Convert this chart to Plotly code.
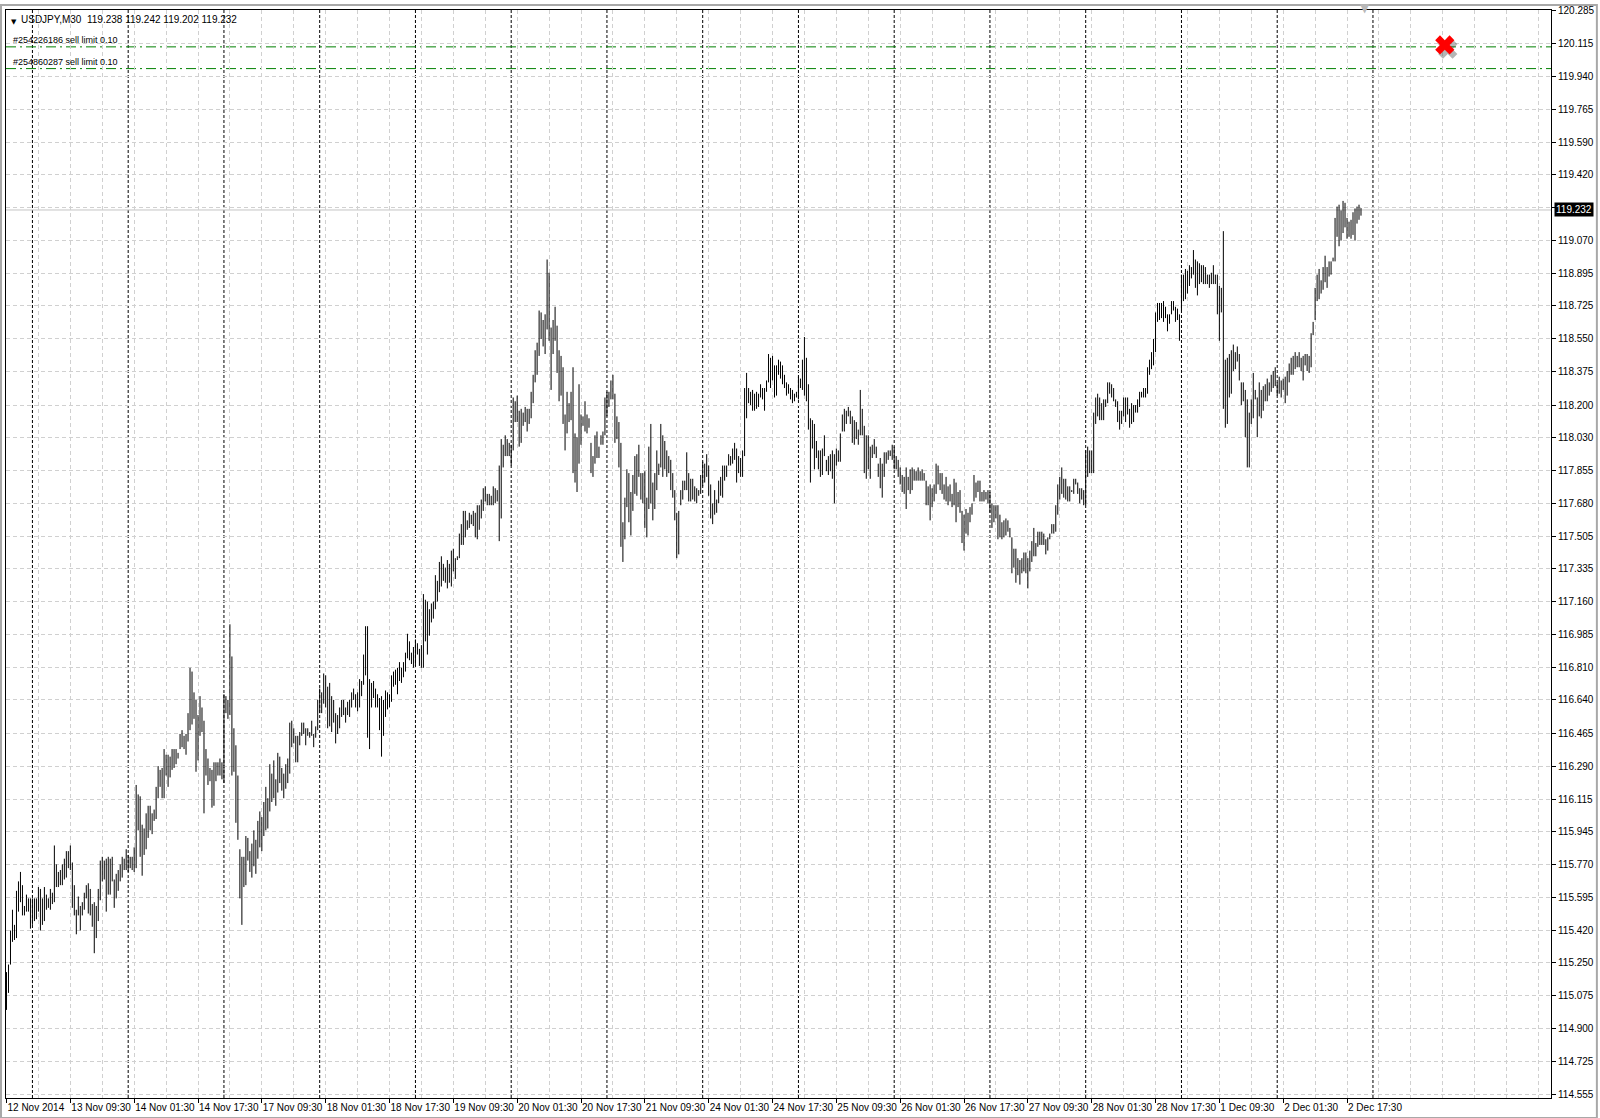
import plotly.graph_objects as go

# USDJPY, M30 - one value per 30 minute bar, first bar 12 Nov 2014 17:30
bar_high = [
    115.20, 115.24, 115.42, 115.53, 115.45, 115.63, 115.68, 115.73, 115.66, 115.55,
    115.61, 115.59, 115.59, 115.59, 115.59, 115.59, 115.65, 115.64, 115.59, 115.65,
    115.61, 115.59, 115.64, 115.62, 115.87, 115.77, 115.73, 115.74, 115.77, 115.80,
    115.84, 115.84, 115.87, 115.78, 115.66, 115.53, 115.60, 115.55, 115.57, 115.62,
    115.66, 115.67, 115.64, 115.56, 115.57, 115.55, 115.64, 115.79, 115.81, 115.79,
    115.80, 115.81, 115.80, 115.81, 115.69, 115.72, 115.74, 115.77, 115.81, 115.80,
    115.85, 115.82, 115.81, 115.81, 115.86, 116.19, 116.14, 116.13, 115.98, 115.96,
    116.04, 116.08, 116.08, 116.04, 116.06, 116.18, 116.29, 116.27, 116.28, 116.38,
    116.35, 116.35, 116.34, 116.38, 116.38, 116.38, 116.36, 116.46, 116.48, 116.45,
    116.46, 116.57, 116.81, 116.79, 116.68, 116.64, 116.56, 116.66, 116.60, 116.53,
    116.38, 116.33, 116.28, 116.27, 116.31, 116.31, 116.31, 116.33, 116.31, 116.67,
    116.66, 116.64, 117.04, 116.87, 116.49, 116.40, 116.24, 115.85, 115.81, 115.81,
    115.92, 115.91, 115.84, 115.88, 115.95, 115.90, 116.00, 116.05, 116.02, 116.10,
    116.18, 116.12, 116.30, 116.25, 116.32, 116.22, 116.36, 116.34, 116.28, 116.25,
    116.30, 116.33, 116.52, 116.53, 116.49, 116.45, 116.45, 116.47, 116.52, 116.52,
    116.49, 116.49, 116.47, 116.53, 116.46, 116.50, 116.64, 116.70, 116.68, 116.78,
    116.77, 116.71, 116.73, 116.66, 116.64, 116.57, 116.56, 116.60, 116.64, 116.64,
    116.60, 116.63, 116.64, 116.68, 116.70, 116.67, 116.68, 116.75, 116.74, 116.88,
    117.03, 117.03, 116.75, 116.73, 116.74, 116.70, 116.67, 116.65, 116.66, 116.64,
    116.69, 116.68, 116.67, 116.77, 116.79, 116.80, 116.81, 116.84, 116.81, 116.84,
    116.89, 116.99, 116.95, 116.89, 116.92, 116.96, 116.94, 116.91, 116.93, 117.20,
    117.17, 117.16, 117.12, 117.15, 117.16, 117.30, 117.27, 117.37, 117.40, 117.36,
    117.34, 117.38, 117.36, 117.43, 117.44, 117.39, 117.40, 117.52, 117.57, 117.64,
    117.64, 117.59, 117.63, 117.62, 117.64, 117.63, 117.67, 117.67, 117.70, 117.76,
    117.77, 117.73, 117.73, 117.72, 117.77, 117.76, 117.75, 117.88, 118.02, 117.99,
    118.04, 118.02, 118.00, 117.99, 118.24, 118.22, 118.25, 118.17, 118.18, 118.16,
    118.19, 118.18, 118.18, 118.27, 118.36, 118.49, 118.53, 118.70, 118.69, 118.65,
    118.68, 118.97, 118.90, 118.61, 118.65, 118.72, 118.62, 118.49, 118.46, 118.40,
    118.15, 118.27, 118.21, 118.27, 118.40, 118.05, 118.03, 118.31, 118.15, 118.14,
    118.22, 118.15, 118.13, 118.00, 117.93, 118.04, 118.06, 117.98, 118.04, 118.06,
    118.24, 118.27, 118.27, 118.33, 118.36, 118.26, 118.14, 118.11, 118.00, 117.58,
    117.71, 117.86, 117.84, 117.74, 117.83, 117.93, 117.94, 117.99, 117.84, 117.84,
    117.85, 117.71, 117.98, 118.10, 117.79, 117.84, 117.96, 117.89, 118.10, 118.04,
    118.01, 117.96, 117.93, 117.91, 117.84, 117.75, 117.63, 117.64, 117.75, 117.80,
    117.80, 117.95, 117.84, 117.81, 117.81, 117.77, 117.76, 117.75, 117.83, 117.90,
    117.89, 117.94, 117.88, 117.78, 117.68, 117.75, 117.70, 117.80, 117.82, 117.88,
    117.88, 117.88, 117.94, 117.93, 117.97, 118.00, 117.97, 117.93, 117.92, 117.96,
    118.29, 118.37, 118.29, 118.27, 118.28, 118.26, 118.27, 118.26, 118.31, 118.29,
    118.29, 118.33, 118.47, 118.45, 118.46, 118.41, 118.41, 118.44, 118.43, 118.41,
    118.36, 118.32, 118.31, 118.29, 118.28, 118.26, 118.27, 118.35, 118.34, 118.44,
    118.56, 118.45, 118.31, 118.13, 118.12, 118.10, 118.01, 117.96, 117.96, 117.97,
    118.04, 117.91, 117.93, 117.94, 117.96, 117.94, 117.97, 117.96, 118.05, 118.15,
    118.18, 118.17, 118.19, 118.17, 118.14, 118.12, 118.11, 118.07, 118.28, 118.18,
    118.09, 118.04, 118.04, 117.98, 117.99, 118.02, 117.98, 117.89, 117.92, 117.89,
    117.95, 117.95, 117.96, 117.96, 117.99, 117.98, 117.93, 117.91, 117.87, 117.83,
    117.82, 117.87, 117.82, 117.86, 117.87, 117.86, 117.85, 117.87, 117.85, 117.86,
    117.84, 117.80, 117.77, 117.78, 117.76, 117.78, 117.89, 117.88, 117.84, 117.84,
    117.78, 117.82, 117.77, 117.78, 117.73, 117.81, 117.79, 117.74, 117.75, 117.64,
    117.62, 117.65, 117.63, 117.66, 117.68, 117.83, 117.79, 117.80, 117.80, 117.74,
    117.75, 117.74, 117.75, 117.74, 117.68, 117.67, 117.67, 117.67, 117.62, 117.58,
    117.59, 117.60, 117.59, 117.55, 117.50, 117.44, 117.44, 117.39, 117.38, 117.39,
    117.42, 117.42, 117.39, 117.43, 117.48, 117.55, 117.47, 117.53, 117.53, 117.53,
    117.52, 117.49, 117.50, 117.52, 117.57, 117.57, 117.67, 117.78, 117.82, 117.87,
    117.81, 117.81, 117.77, 117.77, 117.75, 117.81, 117.81, 117.79, 117.76, 117.76,
    117.75, 117.96, 117.98, 117.96, 117.96, 118.16, 118.24, 118.26, 118.24, 118.21,
    118.23, 118.23, 118.32, 118.32, 118.31, 118.29, 118.23, 118.22, 118.17, 118.17,
    118.24, 118.24, 118.24, 118.18, 118.21, 118.20, 118.20, 118.23, 118.27, 118.27,
    118.29, 118.29, 118.40, 118.44, 118.48, 118.55, 118.69, 118.74, 118.74, 118.74,
    118.75, 118.72, 118.68, 118.68, 118.75, 118.75, 118.72, 118.71, 118.68, 118.89,
    118.89, 118.92, 118.91, 118.94, 118.93, 119.02, 118.97, 118.96, 118.95, 118.94,
    118.94, 118.93, 118.89, 118.89, 118.90, 118.94, 118.89, 118.89, 118.83, 118.82,
    119.12, 118.44, 118.45, 118.47, 118.49, 118.52, 118.48, 118.51, 118.47, 118.32,
    118.32, 118.28, 118.23, 118.16, 118.23, 118.37, 118.28, 118.24, 118.32, 118.28,
    118.30, 118.31, 118.34, 118.32, 118.36, 118.38, 118.40, 118.32, 118.35, 118.33,
    118.34, 118.35, 118.38, 118.42, 118.45, 118.46, 118.48, 118.46, 118.48, 118.45,
    118.46, 118.47, 118.47, 118.46, 118.58, 118.64, 118.82, 118.89, 118.92, 118.86,
    118.93, 118.99, 118.93, 118.96, 118.96, 118.98, 119.19, 119.25, 119.26, 119.23,
    119.28, 119.27, 119.19, 119.17, 119.18, 119.22, 119.24, 119.25, 119.26, 119.242,
]

bar_low = [
    115.00, 115.09, 115.24, 115.36, 115.37, 115.38, 115.52, 115.57, 115.50, 115.50,
    115.52, 115.52, 115.43, 115.45, 115.47, 115.48, 115.52, 115.42, 115.45, 115.47,
    115.53, 115.54, 115.53, 115.56, 115.57, 115.65, 115.65, 115.66, 115.66, 115.69,
    115.70, 115.75, 115.74, 115.54, 115.50, 115.40, 115.50, 115.42, 115.50, 115.53,
    115.59, 115.51, 115.50, 115.44, 115.30, 115.38, 115.47, 115.58, 115.68, 115.69,
    115.52, 115.61, 115.61, 115.68, 115.54, 115.59, 115.63, 115.68, 115.70, 115.74,
    115.74, 115.73, 115.75, 115.74, 115.73, 115.75, 115.95, 115.81, 115.71, 115.82,
    115.85, 115.91, 115.95, 115.93, 116.00, 116.01, 116.12, 116.18, 116.12, 116.12,
    116.24, 116.18, 116.23, 116.27, 116.28, 116.30, 116.33, 116.38, 116.39, 116.38,
    116.35, 116.42, 116.48, 116.51, 116.54, 116.26, 116.32, 116.45, 116.47, 116.04,
    116.24, 116.19, 116.21, 116.07, 116.08, 116.21, 116.24, 116.24, 116.22, 116.20,
    116.57, 116.54, 116.56, 116.24, 116.26, 115.99, 115.90, 115.59, 115.45, 115.65,
    115.66, 115.79, 115.73, 115.70, 115.76, 115.72, 115.80, 115.86, 115.84, 115.92,
    115.95, 115.96, 116.05, 116.10, 116.12, 116.08, 116.15, 116.20, 116.16, 116.12,
    116.17, 116.20, 116.25, 116.39, 116.41, 116.31, 116.31, 116.40, 116.45, 116.46,
    116.40, 116.45, 116.44, 116.45, 116.39, 116.44, 116.48, 116.57, 116.57, 116.62,
    116.60, 116.49, 116.50, 116.47, 116.52, 116.41, 116.46, 116.49, 116.55, 116.56,
    116.52, 116.56, 116.55, 116.60, 116.64, 116.60, 116.58, 116.60, 116.66, 116.72,
    116.77, 116.44, 116.38, 116.60, 116.65, 116.60, 116.60, 116.48, 116.34, 116.45,
    116.55, 116.59, 116.60, 116.63, 116.71, 116.72, 116.67, 116.74, 116.73, 116.76,
    116.79, 116.86, 116.85, 116.83, 116.81, 116.82, 116.88, 116.82, 116.81, 116.81,
    116.95, 116.88, 116.98, 117.05, 117.07, 117.12, 117.16, 117.21, 117.24, 117.27,
    117.26, 117.23, 117.26, 117.24, 117.32, 117.28, 117.38, 117.39, 117.46, 117.46,
    117.50, 117.54, 117.55, 117.57, 117.56, 117.50, 117.49, 117.54, 117.60, 117.64,
    117.69, 117.67, 117.67, 117.67, 117.67, 117.68, 117.69, 117.48, 117.60, 117.87,
    117.93, 117.93, 117.93, 117.88, 117.96, 118.11, 118.11, 117.98, 118.00, 118.09,
    118.11, 118.06, 118.10, 118.13, 118.21, 118.32, 118.36, 118.46, 118.55, 118.51,
    118.47, 118.60, 118.54, 118.28, 118.47, 118.54, 118.37, 118.22, 118.25, 118.10,
    117.96, 118.05, 118.11, 118.12, 117.84, 117.79, 117.74, 117.89, 117.99, 118.09,
    118.06, 118.05, 118.08, 117.84, 117.82, 117.89, 117.92, 117.92, 117.99, 117.99,
    118.04, 118.14, 118.19, 118.23, 118.23, 118.00, 118.02, 117.87, 117.45, 117.37,
    117.49, 117.66, 117.58, 117.51, 117.64, 117.73, 117.72, 117.82, 117.70, 117.68,
    117.55, 117.50, 117.65, 117.68, 117.59, 117.65, 117.75, 117.83, 117.87, 117.82,
    117.86, 117.82, 117.84, 117.75, 117.71, 117.59, 117.39, 117.41, 117.67, 117.70,
    117.75, 117.75, 117.69, 117.69, 117.70, 117.69, 117.68, 117.72, 117.73, 117.77,
    117.79, 117.82, 117.72, 117.60, 117.57, 117.62, 117.63, 117.68, 117.72, 117.71,
    117.80, 117.82, 117.88, 117.88, 117.89, 117.91, 117.79, 117.84, 117.82, 117.82,
    117.93, 118.13, 118.21, 118.20, 118.17, 118.17, 118.18, 118.19, 118.24, 118.23,
    118.17, 118.27, 118.32, 118.29, 118.33, 118.24, 118.25, 118.36, 118.34, 118.31,
    118.29, 118.25, 118.26, 118.23, 118.21, 118.22, 118.24, 118.23, 118.29, 118.28,
    118.25, 118.22, 118.07, 117.79, 117.97, 117.86, 117.92, 117.86, 117.82, 117.83,
    117.93, 117.85, 117.83, 117.85, 117.81, 117.68, 117.88, 117.90, 117.90, 118.06,
    118.06, 118.10, 118.14, 118.10, 118.00, 117.99, 118.02, 117.99, 118.04, 118.04,
    117.84, 117.81, 117.86, 117.81, 117.92, 117.94, 117.92, 117.82, 117.76, 117.71,
    117.82, 117.89, 117.91, 117.93, 117.91, 117.86, 117.86, 117.82, 117.78, 117.74,
    117.73, 117.65, 117.75, 117.73, 117.75, 117.80, 117.80, 117.80, 117.80, 117.80,
    117.80, 117.67, 117.67, 117.59, 117.66, 117.69, 117.73, 117.78, 117.75, 117.73,
    117.70, 117.69, 117.67, 117.69, 117.66, 117.67, 117.58, 117.66, 117.63, 117.47,
    117.43, 117.52, 117.51, 117.58, 117.62, 117.69, 117.71, 117.74, 117.69, 117.69,
    117.69, 117.70, 117.68, 117.63, 117.55, 117.58, 117.60, 117.49, 117.50, 117.49,
    117.50, 117.51, 117.53, 117.50, 117.31, 117.34, 117.26, 117.30, 117.25, 117.31,
    117.32, 117.31, 117.23, 117.32, 117.37, 117.40, 117.40, 117.45, 117.46, 117.46,
    117.46, 117.41, 117.43, 117.49, 117.52, 117.52, 117.53, 117.62, 117.70, 117.73,
    117.71, 117.70, 117.69, 117.69, 117.74, 117.73, 117.78, 117.73, 117.68, 117.70,
    117.67, 117.67, 117.82, 117.84, 117.84, 117.84, 118.10, 118.14, 118.12, 118.12,
    118.12, 118.19, 118.21, 118.26, 118.24, 118.22, 118.19, 118.11, 118.07, 118.10,
    118.14, 118.11, 118.15, 118.08, 118.10, 118.11, 118.16, 118.16, 118.19, 118.24,
    118.24, 118.24, 118.26, 118.36, 118.39, 118.41, 118.48, 118.64, 118.65, 118.66,
    118.64, 118.66, 118.59, 118.63, 118.68, 118.70, 118.64, 118.65, 118.54, 118.70,
    118.75, 118.76, 118.79, 118.83, 118.87, 118.89, 118.82, 118.78, 118.84, 118.85,
    118.84, 118.84, 118.84, 118.82, 118.84, 118.84, 118.84, 118.68, 118.54, 118.69,
    118.18, 118.08, 118.10, 118.24, 118.26, 118.38, 118.39, 118.43, 118.33, 118.20,
    118.22, 118.03, 117.87, 117.87, 118.10, 118.13, 118.23, 118.03, 118.14, 118.13,
    118.17, 118.22, 118.22, 118.25, 118.27, 118.29, 118.30, 118.25, 118.26, 118.24,
    118.28, 118.21, 118.25, 118.32, 118.36, 118.36, 118.39, 118.40, 118.40, 118.38,
    118.33, 118.41, 118.38, 118.37, 118.40, 118.57, 118.65, 118.75, 118.76, 118.79,
    118.81, 118.85, 118.82, 118.88, 118.89, 118.96, 118.96, 119.09, 119.04, 119.07,
    119.11, 119.14, 119.08, 119.09, 119.08, 119.10, 119.07, 119.16, 119.18, 119.202,
]

# time scale labels, every 32 bars
time_label_bars = [0, 32, 64, 96, 128, 160, 192, 224, 256, 288, 320,
                   352, 384, 416, 448, 480, 512, 544, 576, 608, 640, 672]
time_labels = [
    "12 Nov 2014", "13 Nov 09:30", "14 Nov 01:30", "14 Nov 17:30",
    "17 Nov 09:30", "18 Nov 01:30", "18 Nov 17:30", "19 Nov 09:30",
    "20 Nov 01:30", "20 Nov 17:30", "21 Nov 09:30", "24 Nov 01:30",
    "24 Nov 17:30", "25 Nov 09:30", "26 Nov 01:30", "26 Nov 17:30",
    "27 Nov 09:30", "28 Nov 01:30", "28 Nov 17:30", "1 Dec 09:30",
    "2 Dec 01:30", "2 Dec 17:30",
]

# period separators (00:00 of each day)
day_start_bars = [13, 61, 109, 157, 205, 253, 301, 349, 397, 445,
                  493, 541, 589, 637, 685]

# price scale
price_ticks = [
    120.285, 120.115, 119.940, 119.765, 119.590, 119.420, 119.245, 119.070,
    118.895, 118.725, 118.550, 118.375, 118.200, 118.030, 117.855, 117.680,
    117.505, 117.335, 117.160, 116.985, 116.810, 116.640, 116.465, 116.290,
    116.115, 115.945, 115.770, 115.595, 115.420, 115.250, 115.075, 114.900,
    114.725, 114.555,
]
# 119.245 is hidden behind the current price label
price_tick_text = ["" if p == 119.245 else f"{p:.3f}" for p in price_ticks]

symbol = "USDJPY,M30"
last_ohlc = [119.238, 119.242, 119.202, 119.232]

order_tickets = ["#254226186", "#254860287"]
order_prices = [120.095, 119.980]
order_lots = [0.10, 0.10]

deleted_order_bar = 721
deleted_order_price = 120.105
shift_marker_bar = 681

GRID = "#d0d0d0"
FONT = "Liberation Sans, Arial, sans-serif"

fig = go.Figure()

# high-low bars
bar_x = []
bar_y = []
for i, (hi, lo) in enumerate(zip(bar_high, bar_low)):
    bar_x += [i, i, None]
    bar_y += [lo, hi, None]

fig.add_trace(
    go.Scatter(
        x=bar_x,
        y=bar_y,
        mode="lines",
        line=dict(color="black", width=1),
        hoverinfo="skip",
    )
)

# deleted order mark with a soft shadow (shadow nudged down-right)
fig.add_trace(
    go.Scatter(
        x=[deleted_order_bar + 1.5],
        y=[deleted_order_price - 0.022],
        mode="markers",
        marker=dict(symbol="x", size=17, color="rgba(70,70,70,0.4)", line=dict(width=0)),
        hoverinfo="skip",
    )
)
fig.add_trace(
    go.Scatter(
        x=[deleted_order_bar],
        y=[deleted_order_price],
        mode="markers",
        marker=dict(symbol="x", size=17, color="#ff0000", line=dict(width=0)),
        hoverinfo="skip",
    )
)

shapes = []

# period separators
for b in day_start_bars:
    shapes.append(
        dict(
            type="line", xref="x", yref="paper",
            x0=b, x1=b, y0=0, y1=1,
            line=dict(color="black", width=1, dash="3px,2px"),
            layer="between",
        )
    )

# bid line
shapes.append(
    dict(
        type="line", xref="paper", yref="y",
        x0=0, x1=1, y0=last_ohlc[3], y1=last_ohlc[3],
        line=dict(color="#c4c4c4", width=1),
        layer="between",
    )
)

# pending orders
for price in order_prices:
    shapes.append(
        dict(
            type="line", xref="paper", yref="y",
            x0=0, x1=1, y0=price, y1=price,
            line=dict(color="#008000", width=1, dash="10px,4px,2px,4px"),
            layer="between",
        )
    )

# window frame around the whole picture
shapes.append(
    dict(
        type="rect", xref="paper", yref="paper",
        x0=-5 / 1549, x1=1595 / 1549, y0=-20 / 1093, y1=1098 / 1093,
        line=dict(color="#a8a8a8", width=2),
        layer="above",
    )
)

annotations = [
    dict(
        xref="paper", yref="paper", x=0, y=1,
        xanchor="left", yanchor="top", xshift=3, yshift=-6,
        text="▼", showarrow=False,
        font=dict(family="DejaVu Sans", size=7, color="black"),
    ),
    dict(
        xref="paper", yref="paper", x=0, y=1,
        xanchor="left", yanchor="top", xshift=13, yshift=-2,
        text=f"{symbol}\u00a0\u00a0" + " ".join(f"{v:.3f}" for v in last_ohlc),
        showarrow=False,
        font=dict(family=FONT, size=10, color="black"),
    ),
    dict(
        xref="paper", yref="y", x=1, y=last_ohlc[3],
        xanchor="left", yanchor="middle", xshift=3,
        text=f"{last_ohlc[3]:.3f}", showarrow=False,
        bgcolor="black", borderpad=1,
        font=dict(family=FONT, size=10, color="white"),
    ),
    # shift marker at the top edge
    dict(
        xref="x", yref="paper", x=shift_marker_bar, y=1,
        xanchor="center", yanchor="middle", yshift=2,
        text="▼", showarrow=False,
        font=dict(family="DejaVu Sans", size=12, color="#b8b8b8"),
    ),
]

for ticket, price, lot in zip(order_tickets, order_prices, order_lots):
    annotations.append(
        dict(
            xref="paper", yref="y", x=0, y=price,
            xanchor="left", yanchor="bottom", xshift=5, yshift=0,
            text=f"{ticket} sell limit {lot:.2f}", showarrow=False,
            font=dict(family=FONT, size=9, color="black"),
        )
    )

fig.update_layout(
    width=1600,
    height=1118,
    margin=dict(l=5, r=46, t=5, b=20),
    paper_bgcolor="white",
    plot_bgcolor="white",
    showlegend=False,
    font=dict(family=FONT, size=10, color="black"),
    shapes=shapes,
    annotations=annotations,
    xaxis=dict(
        range=[-0.25, 774.25],
        tickmode="array",
        tickvals=time_label_bars,
        ticktext=time_labels,
        tickangle=0,
        ticklabelposition="outside right",
        ticks="outside",
        ticklen=4,
        tickcolor="black",
        showline=True,
        linecolor="black",
        linewidth=1,
        mirror=True,
        showgrid=True,
        gridcolor=GRID,
        griddash="4px,3px",
        zeroline=False,
        minor=dict(
            tickmode="linear",
            tick0=0,
            dtick=16,
            showgrid=True,
            gridcolor=GRID,
            griddash="4px,3px",
            ticks="",
        ),
    ),
    yaxis=dict(
        side="right",
        range=[114.534, 120.290],
        tickmode="array",
        tickvals=price_ticks,
        ticktext=price_tick_text,
        ticks="outside",
        ticklen=4,
        tickcolor="black",
        showline=True,
        linecolor="black",
        linewidth=1,
        mirror=True,
        showgrid=True,
        gridcolor=GRID,
        griddash="4px,3px",
        zeroline=False,
    ),
)

# the page body keeps a default margin; drop it so the chart sits at 0,0
fig.write_html(
    "out.html",
    config={"displayModeBar": False},
    post_script="document.body.style.margin = '0';",
)
